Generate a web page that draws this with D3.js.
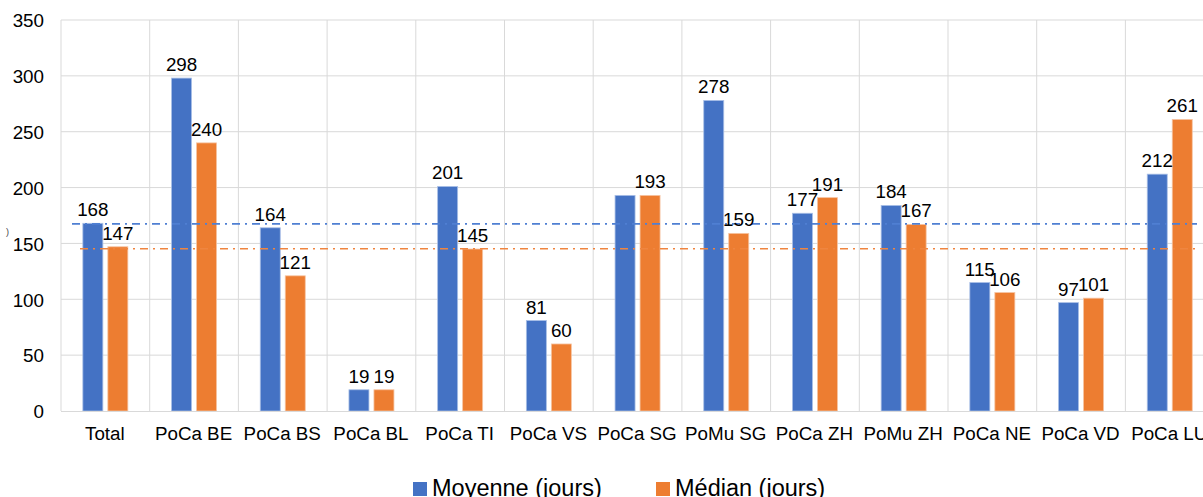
<!DOCTYPE html>
<html>
<head>
<meta charset="utf-8">
<script src="https://cdn.jsdelivr.net/npm/d3@7/dist/d3.min.js"></script>
<style>
  html, body { margin: 0; padding: 0; background: #fff; overflow: hidden; }
  svg { display: block; font-family: "Liberation Sans", Arial, sans-serif; }
</style>
</head>
<body>
<svg id="chart" width="1203" height="497"></svg>
<script>
// Durations per unit, in days
const categories = ["Total", "PoCa BE", "PoCa BS", "PoCa BL", "PoCa TI", "PoCa VS", "PoCa SG",
                    "PoMu SG", "PoCa ZH", "PoMu ZH", "PoCa NE", "PoCa VD", "PoCa LU"];
const moyenne = [168, 298, 164, 19, 201, 81, 193, 278, 177, 184, 115, 97, 212];
const median  = [147, 240, 121, 19, 145, 60, 193, 159, 191, 167, 106, 101, 261];
const seriesNames = ["Moyenne (jours)", "Médian (jours)"];
const yTicks = [0, 50, 100, 150, 200, 250, 300, 350];
// Overall reference levels drawn as dash-dot lines
const refMoyenne = 167.5;
const refMedian = 145.3;

const colors = ["#4472C4", "#ED7D31"];
const fontSize = "18.8px";
const svg = d3.select("#chart");

const plotLeft = 61, plotBottom = 411, plotTop = 20;
const step = 88.7;
const plotRight = plotLeft + step * categories.length;

const x = d3.scaleBand().domain(categories).range([plotLeft, plotRight]).paddingInner(0).paddingOuter(0);
const inner = d3.scaleBand().domain([0, 1]).range([21.85, 66.85]).paddingInner(0.2).paddingOuter(0);
const y = d3.scaleLinear().domain([0, 350]).range([plotBottom, plotTop]);

const grid = svg.append("g");
// horizontal gridlines
grid.selectAll("line.h").data(yTicks.slice(1)).join("line")
  .attr("x1", plotLeft).attr("x2", plotRight)
  .attr("y1", d => y(d)).attr("y2", d => y(d))
  .attr("stroke", "#d9d9d9").attr("stroke-width", 1);
// vertical category separators
grid.selectAll("line.v").data(categories).join("line")
  .attr("x1", d => x(d)).attr("x2", d => x(d))
  .attr("y1", y(350)).attr("y2", plotBottom)
  .attr("stroke", "#d9d9d9").attr("stroke-width", 1);

// y axis labels
const yAxis = svg.append("g").attr("transform", `translate(44,0)`)
  .call(d3.axisLeft(y).tickValues(yTicks).tickSize(0).tickPadding(0));
yAxis.select(".domain").remove();
yAxis.selectAll("text").attr("font-size", fontSize).attr("fill", "#000")
  .attr("font-family", "Liberation Sans, Arial, sans-serif").attr("dy", "0.36em");

// bars
const series = [moyenne, median];
series.forEach((vals, si) => {
  const g = svg.append("g");
  g.selectAll("rect").data(categories).join("rect")
    .attr("x", d => x(d) + inner(si))
    .attr("width", inner.bandwidth())
    .attr("y", (d, i) => y(vals[i]))
    .attr("height", (d, i) => plotBottom - y(vals[i]))
    .attr("fill", colors[si])
    .attr("stroke", si === 0 ? "#a9bfe6" : "#f6c4a2")
    .attr("stroke-width", 0.8);
});

// x axis baseline
svg.append("line").attr("x1", plotLeft).attr("x2", plotRight)
  .attr("y1", plotBottom + 0.5).attr("y2", plotBottom + 0.5)
  .attr("stroke", "#d9d9d9").attr("stroke-width", 1.2);

// reference lines
svg.append("line").attr("x1", 72).attr("x2", 1197)
  .attr("y1", y(refMoyenne)).attr("y2", y(refMoyenne))
  .attr("stroke", "#4f7fd2").attr("stroke-width", 1.6).attr("stroke-dasharray", "8,5,2,5");
svg.append("line").attr("x1", 80).attr("x2", 1197)
  .attr("y1", y(refMedian)).attr("y2", y(refMedian))
  .attr("stroke", "#ef8540").attr("stroke-width", 1.6).attr("stroke-dasharray", "8,5,2,5");

// data labels; a mean label that would sit on an identical median label is left out
const labelX = (d, si) => x(d) + inner(si) + inner.bandwidth() / 2;
series.forEach((vals, si) => {
  const items = categories.map((c, i) => ({ c, v: vals[i], i }))
    .filter(o => !(si === 0 && o.v === median[o.i] && String(o.v).length > 2));
  svg.append("g").selectAll("text").data(items).join("text")
    .attr("x", o => labelX(o.c, si))
    .attr("y", o => y(o.v) - 7)
    .attr("text-anchor", "middle")
    .attr("font-size", fontSize).attr("fill", "#000")
    .text(o => o.v);
});

// category labels
svg.append("g").selectAll("text").data(categories).join("text")
  .attr("x", d => x(d) + x.bandwidth() / 2 - 0.5)
  .attr("y", 440)
  .attr("text-anchor", "middle")
  .attr("font-size", fontSize).attr("fill", "#000")
  .text(d => d);

// clipped axis title remnant
svg.append("text").attr("x", 6).attr("y", 235).attr("font-size", "9px").attr("fill", "#444").text(")");

// legend
const legendPos = [413, 656];
seriesNames.forEach((name, i) => {
  svg.append("rect").attr("x", legendPos[i]).attr("y", 482).attr("width", 14).attr("height", 14)
    .attr("fill", colors[i]);
  svg.append("text").attr("x", legendPos[i] + 19).attr("y", 496)
    .attr("font-size", "23.5px").attr("fill", "#000").text(name);
});
</script>
</body>
</html>
